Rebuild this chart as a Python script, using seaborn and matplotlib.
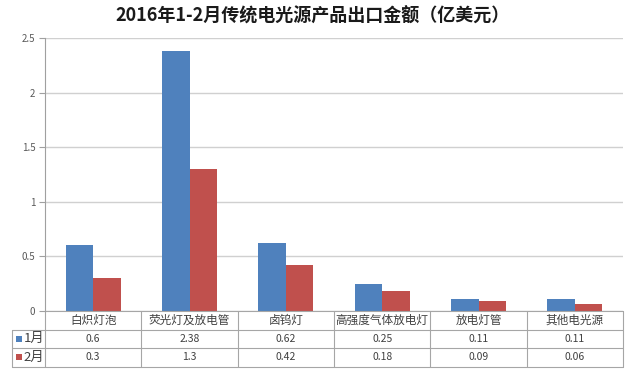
import matplotlib
matplotlib.use("Agg")
import matplotlib.pyplot as plt
import seaborn as sns
import pandas as pd
from matplotlib.patches import Rectangle

categories = ["白炽灯泡", "荧光灯及放电管", "卤钨灯", "高强度气体放电灯", "放电灯管", "其他电光源"]
series_names = ["1月", "2月"]
jan_values = [0.6, 2.38, 0.62, 0.25, 0.11, 0.11]
feb_values = [0.3, 1.3, 0.42, 0.18, 0.09, 0.06]
y_ticks = [0, 0.5, 1, 1.5, 2, 2.5]
title = "2016年1-2月传统电光源产品出口金额（亿美元）"

colors = ["#4F81BD", "#C0504D"]

sns.set_theme(style="white")
plt.rcParams["font.family"] = ["Noto Sans CJK SC", "DejaVu Sans"]

df = pd.DataFrame({
    "category": categories * 2,
    "series": [series_names[0]] * len(categories) + [series_names[1]] * len(categories),
    "value": jan_values + feb_values,
})

W, H = 630, 372
fig = plt.figure(figsize=(W / 100, H / 100), dpi=100)
left_px, right_px, top_px, bottom_px = 45, 623, 38, 311
ax = fig.add_axes([left_px / W, 1 - bottom_px / H, (right_px - left_px) / W, (bottom_px - top_px) / H])

sns.barplot(data=df, x="category", y="value", hue="series", order=categories,
            hue_order=series_names, palette=colors, width=0.57, gap=0,
            saturation=1, ax=ax, legend=False, edgecolor="none")

ax.set_xlim(-0.5, len(categories) - 0.5)
ax.set_ylim(0, 2.5)
ax.set_yticks(y_ticks)
ax.set_yticklabels([f"{t:g}" for t in y_ticks], fontsize=7, color="#595959")
ax.set_xticks([])
ax.set_xlabel("")
ax.set_ylabel("")
ax.yaxis.grid(True, color="#D0D0D0", linewidth=1)
ax.set_axisbelow(True)
for s in ["top", "right", "bottom"]:
    ax.spines[s].set_visible(False)
ax.spines["left"].set_color("#A0A0A0")
ax.spines["left"].set_linewidth(0.8)
ax.tick_params(axis="y", which="both", left=True, length=4, width=0.8, color="#A0A0A0", pad=3)

# Table below
tr = ax.get_xaxis_transform()
axes_h = bottom_px - top_px
row_h = 18.5 / axes_h
legend_left = -0.5 - 33 / ((right_px - left_px) / len(categories))
line_kw = dict(color="#A6A6A6", linewidth=0.8, transform=tr, clip_on=False)
n = len(categories)
y0 = 0
y1 = -row_h
y2 = -2 * row_h
y3 = -3 * row_h
ax.plot([-0.5, n - 0.5], [y0, y0], **line_kw)
ax.plot([legend_left, n - 0.5], [y1, y1], **line_kw)
ax.plot([legend_left, n - 0.5], [y2, y2], **line_kw)
ax.plot([legend_left, n - 0.5], [y3, y3], **line_kw)
for i in range(n + 1):
    ax.plot([i - 0.5, i - 0.5], [y0, y3], **line_kw)
ax.plot([legend_left, legend_left], [y1, y3], **line_kw)

for i, c in enumerate(categories):
    ax.text(i, (y0 + y1) / 2, c, transform=tr, ha="center", va="center",
            fontsize=8.4, color="#404040", clip_on=False)
    ax.text(i, (y1 + y2) / 2, f"{jan_values[i]:g}", transform=tr, ha="center", va="center",
            fontsize=7.5, color="#404040", clip_on=False)
    ax.text(i, (y2 + y3) / 2, f"{feb_values[i]:g}", transform=tr, ha="center", va="center",
            fontsize=7.5, color="#404040", clip_on=False)

for k, (name, col) in enumerate(zip(series_names, colors)):
    yc = (y1 + y2) / 2 if k == 0 else (y2 + y3) / 2
    sq = 6 / axes_h
    ax.add_patch(Rectangle((legend_left + 0.04, yc - sq / 2), 0.065, sq, transform=tr,
                           facecolor=col, edgecolor="none", clip_on=False))
    ax.text(legend_left + 0.12, yc, name, transform=tr, ha="left", va="center",
            fontsize=9.5, color="#404040", clip_on=False)

fig.text(313 / W, 1 - 16 / H, title, ha="center", va="center", fontsize=13,
         fontweight="bold", color="#1A1A1A")

fig.savefig("out.png", dpi=100, facecolor="white")
